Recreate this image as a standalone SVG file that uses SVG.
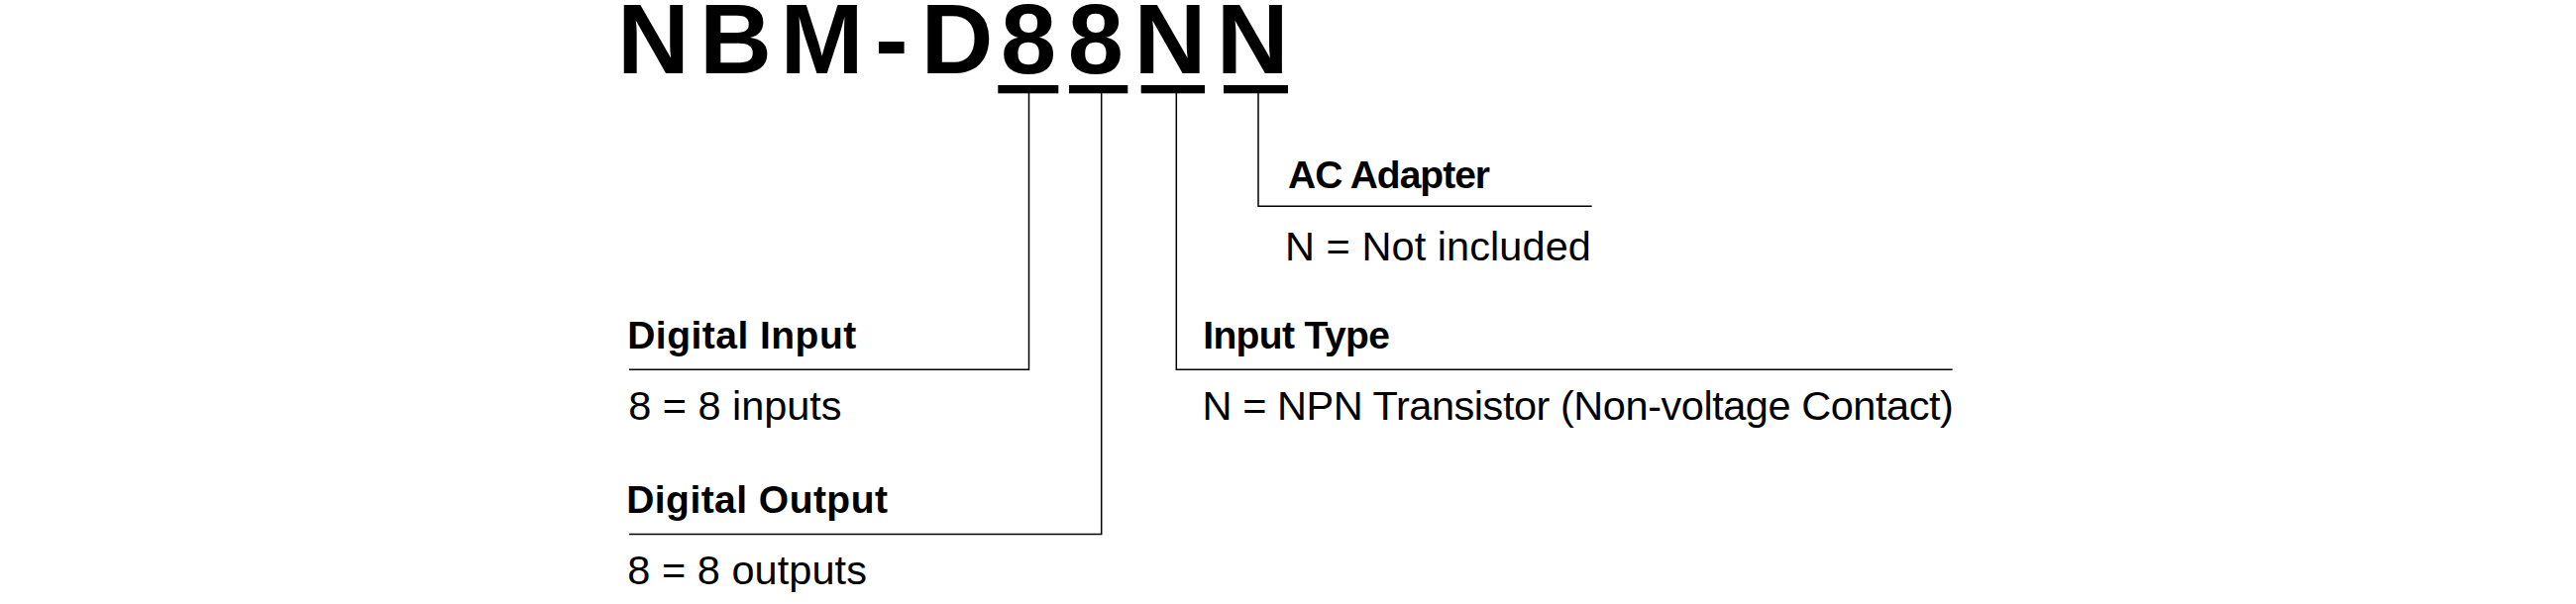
<svg xmlns="http://www.w3.org/2000/svg" width="2600" height="610" viewBox="0 0 2600 610">
  <style>
    .title { font-family: "Liberation Sans", Arial, Helvetica, sans-serif; font-weight: bold; font-size: 101px; fill: #000; }
    .head { font-family: "Liberation Sans", Arial, Helvetica, sans-serif; font-weight: bold; font-size: 39px; fill: #000; }
    .val { font-family: "Liberation Sans", Arial, Helvetica, sans-serif; font-size: 41.5px; fill: #000; }
    .bar { fill: #000; }
    .conn { fill: none; stroke: #000; stroke-width: 1.5; }
  </style>
  <rect x="0" y="0" width="2600" height="610" fill="#fff"/>

  <g id="title">
    <text class="title" x="623 706 787.5 883 929.5 1010 1077.7 1144.5 1227.8" y="74">NBM-D88NN</text>
  </g>

  <g id="segment-bars">
    <rect class="bar" x="1007.3" y="86" width="61" height="8.3"/>
    <rect class="bar" x="1079" y="86" width="59.3" height="8.3"/>
    <rect class="bar" x="1151.7" y="86" width="64.3" height="8.3"/>
    <rect class="bar" x="1235" y="86" width="65" height="8.3"/>
  </g>

  <g id="connectors">
    <polyline class="conn" points="1038.5,94 1038.5,373.3 635,373.3"/>
    <polyline class="conn" points="1111.7,94 1111.7,539.5 635,539.5"/>
    <polyline class="conn" points="1187.3,94 1187.3,373.3 1970.7,373.3"/>
    <polyline class="conn" points="1270,94 1270,208.3 1606.7,208.3"/>
  </g>

  <g id="node-digital-input">
    <text class="head" x="633.2" y="351.7" textLength="231" lengthAdjust="spacing">Digital Input</text>
    <text class="val" x="634.2" y="424" textLength="215.3" lengthAdjust="spacing">8 = 8 inputs</text>
  </g>

  <g id="node-digital-output">
    <text class="head" x="632.2" y="517.5" textLength="263.7" lengthAdjust="spacing">Digital Output</text>
    <text class="val" x="633.2" y="589.5" textLength="241.7" lengthAdjust="spacing">8 = 8 outputs</text>
  </g>

  <g id="node-input-type">
    <text class="head" x="1214.2" y="351.7" textLength="188.7" lengthAdjust="spacing">Input Type</text>
    <text class="val" x="1213.6" y="424" textLength="758.2" lengthAdjust="spacing">N = NPN Transistor (Non-voltage Contact)</text>
  </g>

  <g id="node-ac-adapter">
    <text class="head" x="1300" y="190" textLength="204" lengthAdjust="spacing">AC Adapter</text>
    <text class="val" x="1296.9" y="263" textLength="309" lengthAdjust="spacing">N = Not included</text>
  </g>
</svg>
